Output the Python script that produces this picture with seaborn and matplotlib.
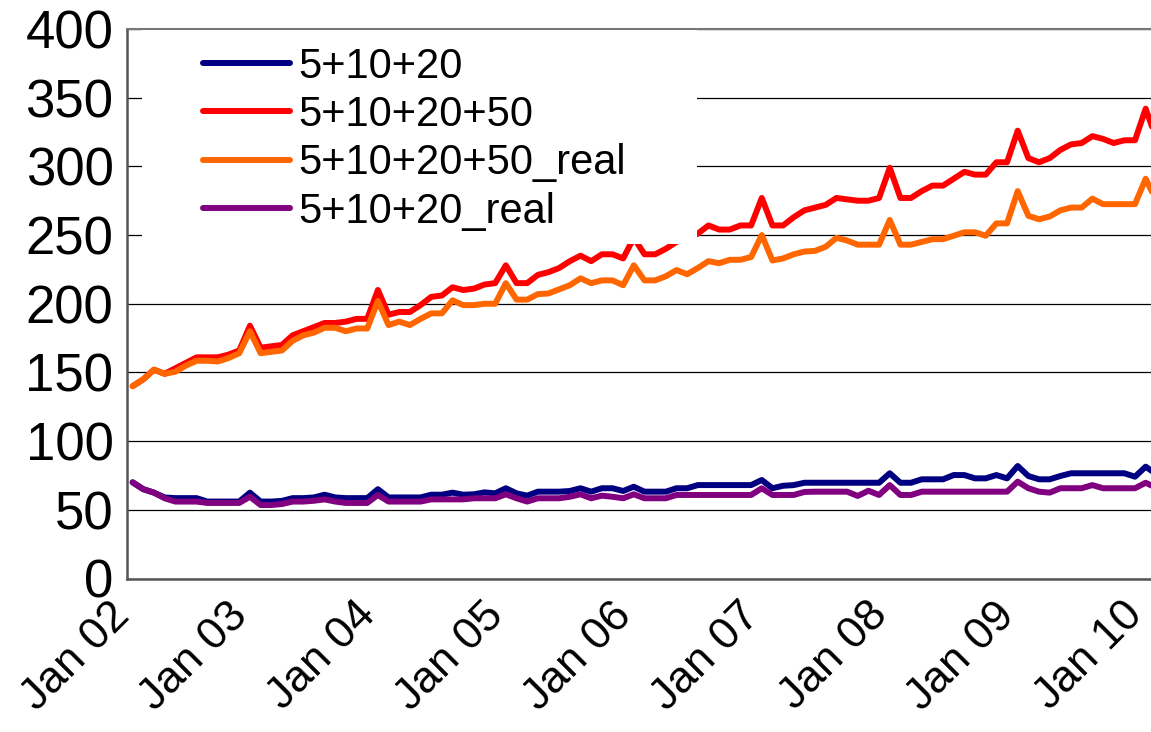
import matplotlib
matplotlib.use("Agg")
import matplotlib.pyplot as plt
import matplotlib.transforms as mtransforms
from matplotlib.patches import Rectangle
import numpy as np
import pandas as pd
import seaborn as sns

# monthly values, Jan 02 .. Jan 10 (last point runs just past the right edge)
s20 = [70, 65, 62.5, 59, 58.5, 58.5, 58.5, 56, 56, 56, 56, 62.5, 56, 56, 56.5, 58.5,
       58.5, 59, 61, 59, 58.5, 58.5, 58.5, 65, 59, 59, 59, 59, 61, 61, 62.5, 61,
       61.3, 62.7, 62, 65.7, 62, 60.3, 63.2, 63.2, 63.2, 63.7, 65.7, 63.2, 65.7, 65.7,
       63.7, 66.8, 63.2, 63.2, 63.2, 65.7, 65.7, 68, 68, 68, 68, 68, 68, 71.7,
       65.7, 67.5, 68, 69.7, 69.7, 69.7, 69.7, 69.7, 69.7, 69.7, 69.7, 76.6, 69.7, 69.7,
       72.2, 72.2, 72.2, 75.3, 75.3, 72.9, 72.9, 75.3, 72.9, 81.9, 74.6, 72.2, 72.2, 74.6,
       76.6, 76.6, 76.6, 76.6, 76.6, 76.6, 74.1, 81.4, 76]
s50 = [140, 145, 152, 149, 153, 157, 161, 161, 161, 163, 166, 184, 168, 169, 170, 177,
       180, 183, 186, 186, 187, 189, 189, 210, 192, 194, 194, 199, 205, 206, 212, 210,
       211, 214, 215, 228, 215, 215, 221, 223, 226, 231, 235, 231, 236, 236, 233, 248,
       236, 236, 240, 245, 248, 251, 257, 254, 254, 257, 257, 277, 257, 257, 263, 268,
       270, 272, 277, 276, 275, 275, 277, 299, 277, 277, 282, 286, 286, 291, 296, 294,
       294, 303, 303, 326, 306, 303, 306, 312, 316, 317, 322, 320, 317, 319, 319, 342, 320]
s50_real = [140, 145, 152, 149, 150.5, 155, 158.5, 158.5, 158, 160.5, 164, 180, 164, 165, 166, 173,
            177, 179, 182.5, 182.5, 180, 182, 182, 202, 184.5, 187, 184.5, 189, 193, 193, 202.5, 199,
            199, 200, 200, 215, 203, 203, 207, 207.5, 210.5, 213.5, 218.5, 215, 217, 217, 213.5, 228,
            217, 217, 220, 224.5, 221.5, 226, 231, 229.5, 232, 232, 234, 250, 231.5, 233, 236, 238,
            238.5, 241.5, 248, 246, 243, 243, 243, 261, 243, 243, 245, 247, 247, 249.5, 252, 252,
            249.5, 258.5, 258.5, 282, 264, 261.5, 263.5, 268, 270, 270, 276.5, 272.5, 272.5, 272.5, 272.5, 291, 275]
s20_real = [70, 65, 62.5, 58.4, 56, 56, 56, 55, 55, 55, 55, 59.5, 53.5, 53.5, 54.2, 56,
            56, 56.6, 57.6, 56, 55, 55, 55, 60.8, 56, 56, 56, 56, 57.6, 57.6, 57.6, 57.6,
            58.4, 58.4, 58.4, 61.3, 58.4, 56, 58.4, 58.4, 58.4, 59.5, 61.3, 58.4, 60.3, 59.5,
            58.4, 61.3, 58.4, 58.4, 58.4, 60.8, 60.8, 60.8, 60.8, 60.8, 60.8, 60.8, 60.8, 65.7,
            60.8, 60.8, 60.8, 63, 63.2, 63.2, 63.2, 63.2, 60.1, 63.9, 60.8, 68, 60.8, 60.8,
            63.2, 63.2, 63.2, 63.2, 63.2, 63.2, 63.2, 63.2, 63.2, 70.5, 65.7, 63.2, 62.5, 65.7,
            65.7, 65.7, 68, 65.7, 65.7, 65.7, 65.7, 69.7, 66]

series_names = ["5+10+20", "5+10+20+50", "5+10+20+50_real", "5+10+20_real"]
colors = ["#000080", "#FF0000", "#FF6600", "#800080"]

tick_pos = [0, 11, 23, 35, 47, 59, 71, 83, 95]
tick_labels = ["Jan 02", "Jan 03", "Jan 04", "Jan 05", "Jan 06",
               "Jan 07", "Jan 08", "Jan 09", "Jan 10"]
y_ticks = [0, 50, 100, 150, 200, 250, 300, 350, 400]

frames = []
for name, vals in zip(series_names, [s20, s50, s50_real, s20_real]):
    frames.append(pd.DataFrame({"month": np.arange(len(vals)), "value": vals, "series": name}))
df = pd.concat(frames, ignore_index=True)

sns.set_style("white")
plt.rcParams["font.family"] = ["Liberation Sans", "DejaVu Sans"]
plt.rcParams["text.color"] = "black"
plt.rcParams["xtick.color"] = "black"
plt.rcParams["ytick.color"] = "black"
YTICK_FS = 38
XTICK_FS = 32
LEG_FS = 30
LW = 4.3

fig = plt.figure(figsize=(11.51, 7.32), dpi=100)
ax = fig.add_axes([127.3 / 1151, (732 - 578.5) / 732, (1151 - 127.3) / 1151, 549.5 / 732])

sns.lineplot(data=df, x="month", y="value", hue="series", hue_order=series_names,
             palette=colors, linewidth=LW, ax=ax, legend=True)
for line in ax.lines:
    line.set_solid_joinstyle("round")
    line.set_solid_capstyle("round")

ax.set_xlim(-0.5, 95.2)
ax.set_ylim(0, 400)
ax.set_yticks(y_ticks)
ax.set_yticklabels([str(v) for v in y_ticks], fontsize=YTICK_FS)
ax.set_xticks(tick_pos)
ax.set_xticklabels(tick_labels, fontsize=XTICK_FS, rotation=45, ha="right",
                   rotation_mode="anchor", va="center")
ax.set_xticks(np.arange(-0.5, 96, 1), minor=True)
ax.tick_params(axis="x", which="major", length=0, pad=22)
ax.tick_params(axis="x", which="minor", length=9, width=1, color="#222222", direction="out")
ax.tick_params(axis="y", length=5, width=1, color="#666666", direction="out", pad=5)
ax.set_xlabel("")
ax.set_ylabel("")

# nudge the date labels a few pixels left so "Jan 10" stays inside the figure
shift = mtransforms.ScaledTranslation(-9 / 100, 0, fig.dpi_scale_trans)
for lbl in ax.get_xticklabels():
    lbl.set_transform(lbl.get_transform() + shift)

ax.set_axisbelow(True)
ax.grid(axis="y", color="black", linewidth=0.9)
ax.grid(axis="x", visible=False)
for side in ["left", "bottom"]:
    ax.spines[side].set_color("#555555")
    ax.spines[side].set_linewidth(1.8)
ax.spines["top"].set_color("#777777")
ax.spines["top"].set_linewidth(1.5)
ax.spines["right"].set_visible(False)

# white backdrop of the legend, hides the lines behind it
ax.add_patch(Rectangle((0.0144, 0.6087), 0.5421, 0.389, transform=ax.transAxes,
                       facecolor="white", edgecolor="none", zorder=3))

handles, labels = ax.get_legend_handles_labels()
leg = ax.legend(handles, labels, loc="upper left", bbox_to_anchor=(0.0739, 0.968),
                frameon=False, fontsize=LEG_FS, handlelength=2.09, handletextpad=0.19,
                labelspacing=0.2, borderpad=0, borderaxespad=0)
for h in leg.get_lines():
    h.set_linewidth(LW)
    h.set_solid_capstyle("round")
leg.set_zorder(5)

fig.savefig("out.png", dpi=100)
